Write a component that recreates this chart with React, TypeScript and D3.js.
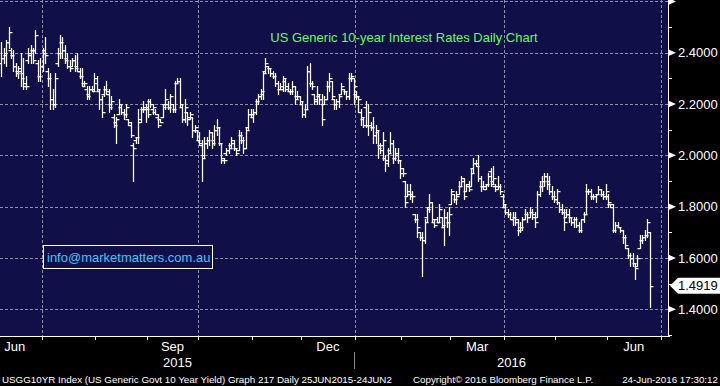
/**
 * UsTenYearChart
 * Bloomberg-style daily OHLC bar chart of the US generic 10-year yield
 */

import { useEffect, useRef } from 'react';
import * as d3 from 'd3';

type Bar = [number, number, number, number]; // open, high, low, close

const jun15: Bar[] = [
  [2.36, 2.44, 2.31, 2.38], [2.38, 2.42, 2.36, 2.40], [2.39, 2.45, 2.35, 2.44], [2.44, 2.50, 2.42, 2.48],
  [2.41, 2.42, 2.38, 2.39], [2.39, 2.41, 2.33, 2.35], [2.35, 2.36, 2.31, 2.32], [2.33, 2.35, 2.30, 2.34],
  [2.33, 2.40, 2.27, 2.30], [2.32, 2.38, 2.26, 2.27], [2.28, 2.31, 2.26, 2.27], [2.37, 2.42, 2.36, 2.40],
  [2.39, 2.43, 2.36, 2.41], [2.41, 2.42, 2.36, 2.37], [2.41, 2.49, 2.40, 2.47], [2.36, 2.37, 2.29, 2.31],
  [2.31, 2.38, 2.29, 2.35],
];

const jul15: Bar[] = [
  [2.35, 2.42, 2.33, 2.40], [2.41, 2.46, 2.36, 2.39], [2.33, 2.34, 2.27, 2.30], [2.30, 2.32, 2.18, 2.22],
  [2.22, 2.26, 2.18, 2.20], [2.20, 2.32, 2.19, 2.30], [2.36, 2.42, 2.35, 2.40], [2.40, 2.47, 2.38, 2.44],
  [2.44, 2.46, 2.38, 2.41], [2.41, 2.43, 2.36, 2.37], [2.38, 2.40, 2.34, 2.35], [2.35, 2.37, 2.33, 2.34],
  [2.35, 2.38, 2.35, 2.37], [2.37, 2.39, 2.33, 2.34], [2.35, 2.40, 2.33, 2.33], [2.33, 2.34, 2.30, 2.31],
  [2.31, 2.34, 2.27, 2.27], [2.28, 2.29, 2.27, 2.28], [2.26, 2.27, 2.22, 2.23], [2.24, 2.27, 2.22, 2.26],
  [2.26, 2.27, 2.25, 2.25], [2.26, 2.32, 2.25, 2.30],
];

const aug15: Bar[] = [
  [2.28, 2.31, 2.25, 2.26], [2.25, 2.26, 2.18, 2.22], [2.22, 2.23, 2.15, 2.17], [2.24, 2.27, 2.23, 2.26],
  [2.26, 2.29, 2.24, 2.25], [2.24, 2.26, 2.17, 2.19], [2.20, 2.23, 2.18, 2.21], [2.15, 2.16, 2.11, 2.12],
  [2.13, 2.15, 2.05, 2.14], [2.16, 2.22, 2.16, 2.20], [2.19, 2.20, 2.16, 2.17], [2.17, 2.18, 2.14, 2.16],
  [2.16, 2.20, 2.15, 2.19], [2.14, 2.14, 2.12, 2.13], [2.12, 2.13, 2.07, 2.08], [2.04, 2.05, 1.90, 2.03],
  [2.06, 2.07, 2.05, 2.07], [2.07, 2.18, 2.05, 2.13], [2.14, 2.19, 2.13, 2.18], [2.18, 2.21, 2.17, 2.19],
  [2.18, 2.20, 2.13, 2.18],
];

const sep15: Bar[] = [
  [2.19, 2.22, 2.15, 2.16], [2.21, 2.22, 2.19, 2.20], [2.18, 2.20, 2.16, 2.19], [2.17, 2.18, 2.16, 2.16],
  [2.15, 2.16, 2.11, 2.12], [2.14, 2.14, 2.13, 2.13], [2.15, 2.20, 2.15, 2.19], [2.20, 2.26, 2.18, 2.22],
  [2.20, 2.21, 2.18, 2.19], [2.19, 2.24, 2.17, 2.23], [2.20, 2.20, 2.17, 2.18], [2.18, 2.29, 2.17, 2.28],
  [2.28, 2.30, 2.28, 2.29], [2.29, 2.30, 2.19, 2.20], [2.19, 2.20, 2.13, 2.14], [2.14, 2.22, 2.13, 2.19],
  [2.17, 2.17, 2.12, 2.14], [2.15, 2.17, 2.14, 2.16], [2.15, 2.15, 2.07, 2.10], [2.10, 2.12, 2.09, 2.11],
  [2.10, 2.10, 2.06, 2.06],
];

const oct15: Bar[] = [
  [2.06, 2.09, 2.04, 2.05], [2.04, 2.06, 1.90, 1.99], [2.00, 2.07, 1.99, 2.05], [2.05, 2.07, 2.03, 2.06],
  [2.06, 2.10, 2.04, 2.09], [2.09, 2.09, 2.03, 2.05], [2.06, 2.12, 2.04, 2.10], [2.10, 2.14, 2.08, 2.11],
  [2.11, 2.11, 2.04, 2.05], [2.05, 2.05, 1.97, 1.99], [1.98, 1.99, 1.97, 1.98], [2.01, 2.03, 2.00, 2.02],
  [2.02, 2.05, 2.01, 2.03], [2.04, 2.07, 2.03, 2.06], [2.05, 2.06, 2.02, 2.03], [2.03, 2.03, 2.00, 2.01],
  [2.02, 2.10, 2.02, 2.08], [2.08, 2.09, 2.05, 2.06], [2.06, 2.07, 2.01, 2.03], [2.03, 2.11, 2.03, 2.10],
  [2.11, 2.18, 2.10, 2.16], [2.16, 2.18, 2.15, 2.16],
];

const nov15: Bar[] = [
  [2.15, 2.18, 2.13, 2.17], [2.17, 2.22, 2.16, 2.21], [2.21, 2.24, 2.20, 2.23], [2.23, 2.26, 2.22, 2.25],
  [2.24, 2.33, 2.22, 2.32], [2.33, 2.38, 2.32, 2.36], [2.35, 2.35, 2.32, 2.34], [2.34, 2.34, 2.31, 2.32],
  [2.32, 2.33, 2.30, 2.31], [2.31, 2.32, 2.27, 2.28], [2.28, 2.29, 2.24, 2.26], [2.26, 2.28, 2.26, 2.27],
  [2.26, 2.31, 2.25, 2.30], [2.29, 2.30, 2.25, 2.26], [2.27, 2.28, 2.25, 2.25], [2.25, 2.26, 2.24, 2.25],
  [2.25, 2.29, 2.24, 2.27], [2.27, 2.27, 2.20, 2.22], [2.23, 2.25, 2.22, 2.23], [2.23, 2.23, 2.20, 2.21],
];

const dec15: Bar[] = [
  [2.20, 2.21, 2.15, 2.16], [2.16, 2.20, 2.15, 2.18], [2.18, 2.35, 2.18, 2.33], [2.33, 2.36, 2.27, 2.28],
  [2.28, 2.29, 2.26, 2.27], [2.24, 2.24, 2.20, 2.21], [2.22, 2.27, 2.20, 2.24], [2.23, 2.24, 2.20, 2.22],
  [2.22, 2.24, 2.12, 2.14], [2.20, 2.23, 2.20, 2.22], [2.22, 2.29, 2.22, 2.27], [2.27, 2.32, 2.25, 2.30],
  [2.29, 2.29, 2.22, 2.23], [2.22, 2.22, 2.18, 2.20], [2.20, 2.22, 2.18, 2.21], [2.21, 2.24, 2.19, 2.23],
  [2.24, 2.28, 2.24, 2.27], [2.26, 2.26, 2.24, 2.25], [2.25, 2.25, 2.22, 2.23], [2.23, 2.32, 2.22, 2.30],
  [2.30, 2.32, 2.29, 2.31], [2.30, 2.30, 2.20, 2.27],
];

const jan16: Bar[] = [
  [2.24, 2.25, 2.22, 2.23], [2.23, 2.23, 2.17, 2.22], [2.17, 2.18, 2.12, 2.15], [2.14, 2.15, 2.11, 2.12],
  [2.19, 2.21, 2.11, 2.12], [2.12, 2.20, 2.08, 2.17], [2.12, 2.13, 2.10, 2.11], [2.11, 2.15, 2.05, 2.08],
  [2.08, 2.12, 2.05, 2.10], [2.09, 2.10, 1.99, 2.03], [2.04, 2.05, 2.01, 2.02], [2.04, 2.09, 1.98, 2.06],
  [1.99, 2.00, 1.94, 1.97], [1.98, 2.03, 1.96, 2.01], [2.02, 2.09, 2.01, 2.05], [2.05, 2.06, 1.97, 1.99],
  [1.99, 2.03, 1.98, 2.00], [2.01, 2.03, 1.97, 1.98], [1.98, 1.98, 1.91, 1.93],
];

const feb16: Bar[] = [
  [1.95, 1.95, 1.92, 1.93], [1.90, 1.90, 1.80, 1.82], [1.84, 1.89, 1.84, 1.85], [1.86, 1.89, 1.83, 1.84],
  [1.85, 1.86, 1.82, 1.84], [1.77, 1.77, 1.74, 1.75], [1.75, 1.77, 1.68, 1.72], [1.70, 1.70, 1.67, 1.68],
  [1.68, 1.70, 1.53, 1.67], [1.67, 1.75, 1.66, 1.74], [1.76, 1.80, 1.74, 1.79], [1.80, 1.85, 1.78, 1.82],
  [1.82, 1.82, 1.74, 1.75], [1.74, 1.75, 1.72, 1.73], [1.75, 1.76, 1.74, 1.74], [1.74, 1.81, 1.74, 1.79],
  [1.76, 1.76, 1.72, 1.73], [1.72, 1.79, 1.65, 1.76], [1.76, 1.78, 1.72, 1.74], [1.74, 1.80, 1.69, 1.77],
];

const mar16: Bar[] = [
  [1.81, 1.87, 1.81, 1.86], [1.85, 1.85, 1.82, 1.83], [1.83, 1.86, 1.81, 1.84], [1.85, 1.90, 1.85, 1.88],
  [1.88, 1.92, 1.88, 1.91], [1.90, 1.91, 1.83, 1.84], [1.86, 1.89, 1.86, 1.88], [1.89, 1.90, 1.86, 1.87],
  [1.88, 1.95, 1.88, 1.93], [1.95, 1.99, 1.93, 1.97], [1.97, 1.98, 1.96, 1.96], [1.97, 2.00, 1.90, 1.91],
  [1.91, 1.92, 1.86, 1.88], [1.88, 1.90, 1.87, 1.87], [1.88, 1.89, 1.87, 1.89], [1.89, 1.93, 1.88, 1.92],
  [1.94, 1.95, 1.88, 1.89], [1.90, 1.96, 1.89, 1.91], [1.88, 1.89, 1.86, 1.87], [1.88, 1.92, 1.87, 1.88],
  [1.88, 1.89, 1.85, 1.86], [1.84, 1.85, 1.80, 1.81],
];

const apr16: Bar[] = [
  [1.80, 1.81, 1.77, 1.78], [1.78, 1.79, 1.76, 1.77], [1.77, 1.78, 1.75, 1.75], [1.75, 1.78, 1.73, 1.76],
  [1.76, 1.78, 1.73, 1.75], [1.74, 1.75, 1.69, 1.71], [1.71, 1.74, 1.70, 1.72], [1.72, 1.76, 1.71, 1.75],
  [1.75, 1.79, 1.75, 1.77], [1.77, 1.78, 1.74, 1.76], [1.76, 1.80, 1.76, 1.78], [1.78, 1.79, 1.75, 1.76],
  [1.77, 1.78, 1.72, 1.74], [1.76, 1.86, 1.76, 1.85], [1.85, 1.90, 1.84, 1.88], [1.88, 1.92, 1.86, 1.90],
  [1.90, 1.93, 1.88, 1.92], [1.92, 1.93, 1.87, 1.89], [1.90, 1.92, 1.85, 1.86], [1.86, 1.88, 1.83, 1.84],
  [1.84, 1.86, 1.82, 1.83],
];

const may16: Bar[] = [
  [1.83, 1.87, 1.81, 1.86], [1.82, 1.82, 1.78, 1.79], [1.79, 1.81, 1.77, 1.78], [1.78, 1.79, 1.71, 1.74],
  [1.76, 1.79, 1.76, 1.77], [1.77, 1.79, 1.74, 1.76], [1.76, 1.76, 1.73, 1.74], [1.74, 1.76, 1.72, 1.75],
  [1.75, 1.76, 1.72, 1.73], [1.73, 1.74, 1.70, 1.71], [1.71, 1.75, 1.70, 1.75], [1.75, 1.78, 1.74, 1.77],
  [1.77, 1.89, 1.77, 1.86], [1.86, 1.87, 1.85, 1.86], [1.86, 1.87, 1.83, 1.84], [1.84, 1.85, 1.83, 1.84],
  [1.84, 1.85, 1.82, 1.85], [1.85, 1.88, 1.85, 1.87], [1.87, 1.87, 1.84, 1.85], [1.85, 1.86, 1.83, 1.84],
  [1.84, 1.89, 1.83, 1.86],
];

const jun16: Bar[] = [
  [1.84, 1.85, 1.80, 1.82], [1.81, 1.81, 1.80, 1.81], [1.80, 1.81, 1.70, 1.71], [1.71, 1.74, 1.70, 1.73],
  [1.73, 1.74, 1.72, 1.72], [1.72, 1.72, 1.70, 1.71], [1.71, 1.71, 1.66, 1.68], [1.68, 1.69, 1.64, 1.65],
  [1.64, 1.64, 1.60, 1.61], [1.61, 1.62, 1.57, 1.60], [1.60, 1.62, 1.57, 1.58], [1.58, 1.58, 1.52, 1.56],
  [1.57, 1.61, 1.57, 1.60], [1.64, 1.69, 1.64, 1.67], [1.67, 1.69, 1.66, 1.68], [1.68, 1.71, 1.67, 1.69],
  [1.69, 1.75, 1.68, 1.74], [1.70, 1.70, 1.41, 1.4919],
];

const MONTHLY_BARS = [jun15, jul15, aug15, sep15, oct15, nov15, dec15, jan16, feb16, mar16, apr16, may16, jun16];

// market closures (no bar on the x axis)
const HOLIDAYS = [
  '2015-07-03', '2015-09-07', '2015-11-26', '2015-12-25', '2016-01-01',
  '2016-01-18', '2016-02-15', '2016-03-25', '2016-05-30', '2016-07-04',
];
const AXIS_START = '2015-06-01';
const AXIS_END = '2016-07-30';
const FIRST_BAR = '2015-06-08';
const VISIBLE_DAYS = 273;

const MAJOR_TICKS = [1.4, 1.6, 1.8, 2.0, 2.2, 2.4, 2.6];
const MINOR_TICKS = [1.3, 1.5, 1.7, 1.9, 2.1, 2.3, 2.5];
const LABELLED_MONTHS = [2, 5, 8, 11];
const GRID_MONTHS = [0, 3, 6, 9];
const LAST_PRICE = 1.4919;

const TITLE = 'US Generic 10-year Interest Rates Daily Chart';
const WATERMARK = 'info@marketmatters.com.au';
const FOOTER_LEFT = 'USGG10YR Index (US Generic Govt 10 Year Yield) Graph 217  Daily 25JUN2015-24JUN2';
const FOOTER_MID = 'Copyright\u00a9 2016 Bloomberg Finance L.P.';
const FOOTER_RIGHT = '24-Jun-2016 17:30:12';

const COLORS = {
  page: '#000000',
  plot: '#100f48',
  grid: '#8e8ea6',
  axis: '#ffffff',
  bar: '#ffffff',
  title: '#5cff5c',
  watermark: '#36c8ff',
};

const W = 720;
const H = 386;
const PLOT_W = 668;
const PLOT_H = 336;
const FONT = '"Liberation Sans", Arial, sans-serif';

export default function App() {
  const svgRef = useRef<SVGSVGElement>(null);

  useEffect(() => {
    if (!svgRef.current) return;
    const svg = d3.select(svgRef.current);
    svg.selectAll('*').remove();

    const parse = d3.timeParse('%Y-%m-%d');
    const fmt = d3.timeFormat('%Y-%m-%d');
    const holidaySet = new Set(HOLIDAYS);

    // trading-day calendar used by the x axis
    const axisDays = d3
      .timeDay.range(parse(AXIS_START)!, parse(AXIS_END)!)
      .filter((d) => d.getDay() !== 0 && d.getDay() !== 6 && !holidaySet.has(fmt(d)));
    const firstIdx = axisDays.findIndex((d) => fmt(d) === FIRST_BAR);

    const bars = MONTHLY_BARS.flat().map((b, i) => ({
      idx: firstIdx + i,
      open: b[0],
      high: b[1],
      low: b[2],
      close: b[3],
    }));

    const x = d3
      .scaleLinear()
      .domain([firstIdx - 0.5, firstIdx - 0.5 + VISIBLE_DAYS])
      .range([0, PLOT_W]);
    const y = d3.scaleLinear().domain([1.4, 2.4]).range([309.3, 52.7]);

    // month boundaries (between last day of one month and first of next)
    const months: { start: number; end: number; date: Date }[] = [];
    let segStart = -0.5;
    for (let i = 1; i <= axisDays.length; i++) {
      if (i === axisDays.length || axisDays[i].getMonth() !== axisDays[i - 1].getMonth()) {
        months.push({ start: segStart, end: i - 0.5, date: axisDays[i - 1] });
        segStart = i - 0.5;
      }
    }

    // background
    svg.append('rect').attr('width', W).attr('height', H).attr('fill', COLORS.page);
    svg.append('rect').attr('width', PLOT_W).attr('height', PLOT_H).attr('fill', COLORS.plot);

    const plot = svg.append('g');

    // grid lines
    plot
      .selectAll('line.hgrid')
      .data(MAJOR_TICKS)
      .join('line')
      .attr('x1', 0)
      .attr('x2', PLOT_W)
      .attr('y1', (d) => Math.round(y(d)) + 0.5)
      .attr('y2', (d) => Math.round(y(d)) + 0.5)
      .attr('stroke', COLORS.grid)
      .attr('stroke-dasharray', '3,2');

    const quarterLines = months.filter(
      (m) => GRID_MONTHS.includes(m.date.getMonth()) && x(m.start) > 1 && x(m.start) < PLOT_W
    );
    plot
      .selectAll('line.vgrid')
      .data(quarterLines)
      .join('line')
      .attr('x1', (d) => Math.round(x(d.start)) + 0.5)
      .attr('x2', (d) => Math.round(x(d.start)) + 0.5)
      .attr('y1', 0)
      .attr('y2', PLOT_H)
      .attr('stroke', COLORS.grid)
      .attr('stroke-dasharray', '3,2');

    // OHLC bars: high-low stem, open tick left, close tick right
    plot
      .selectAll('path.bar')
      .data(bars)
      .join('path')
      .attr('d', (d) => {
        const cx = Math.round(x(d.idx)) + 0.5;
        const yo = Math.round(y(d.open)) + 0.5;
        const yc = Math.round(y(d.close)) + 0.5;
        return `M${cx},${Math.round(y(d.high))}V${Math.round(y(d.low)) + 1}` +
          `M${cx - 3},${yo}H${cx}M${cx},${yc}H${cx + 3}`;
      })
      .attr('fill', 'none')
      .attr('stroke', COLORS.bar)
      .attr('stroke-width', 1.25);

    // title and watermark
    svg
      .append('text')
      .attr('x', 404)
      .attr('y', 42)
      .attr('text-anchor', 'middle')
      .attr('fill', COLORS.title)
      .attr('font-family', FONT)
      .attr('font-size', 13)
      .text(TITLE);

    svg
      .append('rect')
      .attr('x', 43.5)
      .attr('y', 245.5)
      .attr('width', 169)
      .attr('height', 23)
      .attr('fill', COLORS.plot)
      .attr('stroke', '#ffffff');
    svg
      .append('text')
      .attr('x', 47)
      .attr('y', 262)
      .attr('fill', COLORS.watermark)
      .attr('font-family', FONT)
      .attr('font-size', 13)
      .text(WATERMARK);

    // plot frame (right + bottom)
    svg
      .append('path')
      .attr('d', `M0,${PLOT_H + 0.5}H${PLOT_W + 2}M${PLOT_W + 0.5},0V${PLOT_H + 1}`)
      .attr('stroke', COLORS.axis)
      .attr('fill', 'none');

    // right axis
    const right = svg.append('g');
    right
      .selectAll('path.major')
      .data(MAJOR_TICKS)
      .join('path')
      .attr('d', (d) => {
        const yy = y(d);
        return `M${PLOT_W},${yy - 3.5}L${PLOT_W + 8},${yy}L${PLOT_W},${yy + 3.5}Z`;
      })
      .attr('fill', COLORS.axis);
    right
      .selectAll('line.minor')
      .data(MINOR_TICKS)
      .join('line')
      .attr('x1', PLOT_W)
      .attr('x2', PLOT_W + 4)
      .attr('y1', (d) => Math.round(y(d)) + 0.5)
      .attr('y2', (d) => Math.round(y(d)) + 0.5)
      .attr('stroke', COLORS.axis);
    right
      .selectAll('text')
      .data(MAJOR_TICKS.filter((d) => y(d) > 8))
      .join('text')
      .attr('x', PLOT_W + 10)
      .attr('y', (d) => y(d))
      .attr('dy', '0.36em')
      .attr('fill', COLORS.axis)
      .attr('font-family', FONT)
      .attr('font-size', 13)
      .text((d) => d.toFixed(4));

    // last price flag
    const yl = y(LAST_PRICE);
    svg
      .append('path')
      .attr('d', `M${PLOT_W + 2},${yl}L${PLOT_W + 10},${yl - 8}H${W}V${yl + 8}H${PLOT_W + 10}Z`)
      .attr('fill', '#ffffff');
    svg
      .append('text')
      .attr('x', PLOT_W + 10)
      .attr('y', yl)
      .attr('dy', '0.36em')
      .attr('fill', '#000000')
      .attr('font-family', FONT)
      .attr('font-size', 13)
      .text(LAST_PRICE.toFixed(4));

    // bottom axis: month ticks, month labels, years
    const bottom = svg.append('g');
    bottom
      .selectAll('line.mtick')
      .data(months.filter((m) => x(m.start) > 1 && x(m.start) < PLOT_W))
      .join('line')
      .attr('x1', (d) => Math.round(x(d.start)) + 0.5)
      .attr('x2', (d) => Math.round(x(d.start)) + 0.5)
      .attr('y1', PLOT_H)
      .attr('y2', PLOT_H + 4)
      .attr('stroke', COLORS.axis);

    bottom
      .selectAll('text.month')
      .data(
        months.filter((m) => {
          const c = x((m.start + m.end) / 2);
          return LABELLED_MONTHS.includes(m.date.getMonth()) && c > 0 && c < PLOT_W;
        })
      )
      .join('text')
      .attr('x', (d) => x((d.start + d.end) / 2))
      .attr('y', 351)
      .attr('text-anchor', 'middle')
      .attr('fill', COLORS.axis)
      .attr('font-family', FONT)
      .attr('font-size', 13)
      .text((d) => d3.timeFormat('%b')(d.date));

    const yearBreak = months.find((m) => m.date.getMonth() === 0)!.start;
    const years = [
      { label: '2015', a: 0, b: x(yearBreak) },
      { label: '2016', a: x(yearBreak), b: PLOT_W },
    ];
    bottom
      .selectAll('text.year')
      .data(years)
      .join('text')
      .attr('x', (d) => (d.a + d.b) / 2)
      .attr('y', 367)
      .attr('text-anchor', 'middle')
      .attr('fill', COLORS.axis)
      .attr('font-family', FONT)
      .attr('font-size', 13)
      .text((d) => d.label);
    bottom
      .append('line')
      .attr('x1', Math.round(x(yearBreak)) - 0.5)
      .attr('x2', Math.round(x(yearBreak)) - 0.5)
      .attr('y1', 352)
      .attr('y2', 369)
      .attr('stroke', '#8a8a8a');

    // footer
    const footer = svg
      .append('g')
      .attr('fill', '#ffffff')
      .attr('font-family', FONT)
      .attr('font-size', 9.8)
      .style('white-space', 'pre');
    footer.append('text').attr('x', 2).attr('y', 383).text(FOOTER_LEFT);
    footer.append('text').attr('x', 413).attr('y', 383).text(FOOTER_MID);
    footer.append('text').attr('x', 718).attr('y', 383).attr('text-anchor', 'end').text(FOOTER_RIGHT);
  }, []);

  return (
    <div style={{ position: 'fixed', left: 0, top: 0, width: W, height: H }}>
      <svg ref={svgRef} width={W} height={H} style={{ display: 'block' }} />
    </div>
  );
}
